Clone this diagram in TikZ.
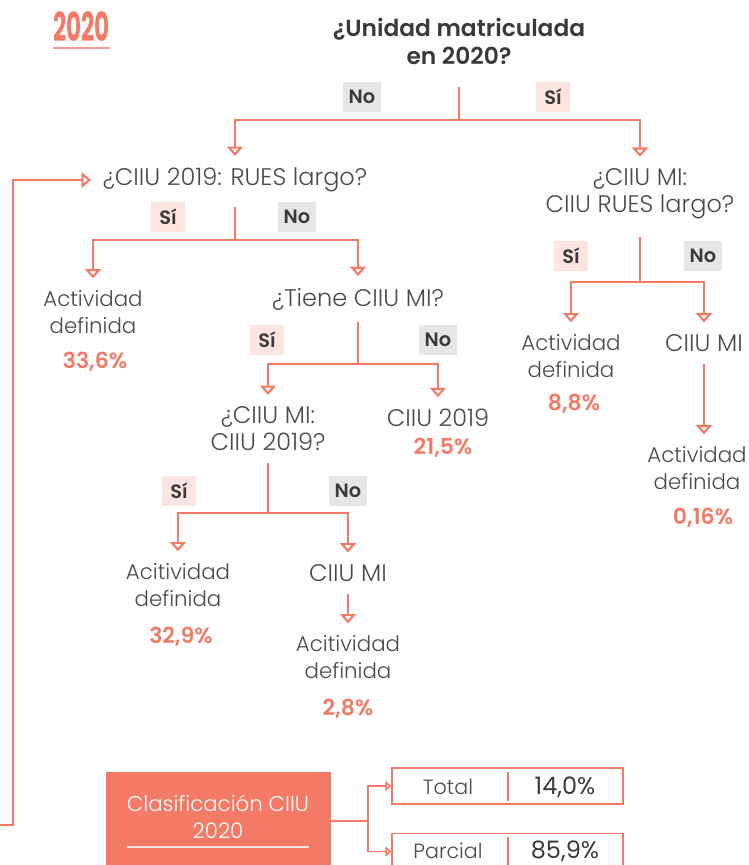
\documentclass[tikz,border=0pt]{standalone}
\usepackage{fontspec}
\setmainfont{Poppins}
\newfontfamily\thinfont{Poppins Light}
\newfontfamily\midfont{Poppins SemiBold}
\usetikzlibrary{arrows.meta}
\definecolor{salmon}{HTML}{F37A65}
\definecolor{sibg}{HTML}{FCE4DF}
\definecolor{nobg}{HTML}{E6E6E6}
\definecolor{ink}{HTML}{3A3A3A}
\definecolor{thinink}{HTML}{4A4A4A}

\begin{document}
\begin{tikzpicture}[x=0.75pt, y=-0.75pt, every node/.style={inner sep=0pt}]
  \tikzset{txt/.style={align=center, text=thinink, outer sep=9pt, font=\thinfont\fontsize{16}{20.3}\selectfont}}
  \tikzset{capt/.style={txt, font=\thinfont\fontsize{18}{20.3}\selectfont}}
  \tikzset{qbold/.style={align=center, text=ink, outer sep=9pt, font=\midfont\fontsize{17.5}{21}\selectfont}}
  \tikzset{pct/.style={text=salmon, font=\midfont\fontsize{16.5}{18}\selectfont}}
  \tikzset{sibox/.style={fill=sibg, text=ink, minimum width=25pt, minimum height=23pt, font=\midfont\fontsize{14.5}{16}\selectfont}}
  \tikzset{nobox/.style={fill=nobg, text=ink, minimum width=28pt, minimum height=23pt, font=\midfont\fontsize{14.5}{16}\selectfont}}
  \tikzset{link/.style={draw=salmon, line width=1.8pt}}
  \tikzset{arr/.style={link, -{Triangle[open, length=7pt, width=12pt, line width=1.6pt]}}}
  \tikzset{arrsm/.style={draw=salmon, line width=1.2pt, -{Triangle[open, length=4.5pt, width=7.5pt]}}}
  \tikzset{cell/.style={draw=salmon, line width=1.2pt, minimum width=173pt, minimum height=27pt}}
  \clip (0,0) rectangle (749,865);
  % title
  \node[text=salmon, font=\bfseries\fontsize{30}{30}\selectfont] (yr) at (81.5,27) {\scalebox{0.58}[1]{2020}};
  \draw[draw=salmon!75, line width=1.5pt] (53,48) -- (110,48);
  % questions
  \node[qbold] (q0) at (459,41) {¿Unidad matriculada\\en 2020?};
  \node[capt] (q1) at (235,180) {¿CIIU 2019: RUES largo?};
  \node[capt] (q2) at (640,194) {¿CIIU MI:\\CIIU RUES largo?};
  \node[capt] (q3) at (358,299) {¿Tiene CIIU MI?};
  \node[capt] (q4) at (268,429) {¿CIIU MI:\\CIIU 2019?};
  % leaves
  \node[txt] (n1) at (93,312) {Actividad\\definida};
  \node[pct] (p1) at (95,362) {33,6\%};
  \node[capt] (n4) at (438,418) {CIIU 2019};
  \node[pct] (p4) at (443,448) {21,5\%};
  \node[txt] (n5) at (178,585) {Acitividad\\definida};
  \node[pct] (p5) at (181,637) {32,9\%};
  \node[capt] (n6) at (348,573) {CIIU MI};
  \node[txt] (n7) at (348,657) {Acitividad\\definida};
  \node[pct] (p7) at (348,709) {2,8\%};
  \node[txt] (n8) at (571,356) {Actividad\\definida};
  \node[pct] (p8) at (574,404) {8,8\%};
  \node[capt] (n9) at (704,343) {CIIU MI};
  \node[txt] (n10) at (697,468) {Actividad\\definida};
  \node[pct] (p10) at (703,518) {0,16\%};
  % si / no
  \node[nobox] (no0) at (362,97) {No};
  \node[sibox] (si0) at (553,97) {Sí};
  \node[sibox] (si1) at (168,217) {Sí};
  \node[nobox] (no1) at (297,217) {No};
  \node[sibox] (si2) at (571,256) {Sí};
  \node[nobox] (no2) at (703,256) {No};
  \node[sibox] (si3) at (267,340) {Sí};
  \node[nobox] (no3) at (438,340) {No};
  \node[sibox] (si4) at (179,491) {Sí};
  \node[nobox] (no4) at (348,491) {No};
  % branches
  \coordinate (b0) at (459,120);
  \coordinate (b1) at (235,240);
  \coordinate (b2) at (640,282);
  \coordinate (b3) at (358,364);
  \coordinate (b4) at (268,513);
  \draw[link, shorten <=8pt] (q0) -- (b0);
  \draw[arr] (b0) -| (q1);
  \draw[arr] (b0) -| (q2);
  \draw[link, shorten <=2pt] (q1) -- (b1);
  \draw[arr] (b1) -| (n1);
  \draw[arr] (b1) -| (q3);
  \draw[link, shorten <=4pt] (q2) -- (b2);
  \draw[arr] (b2) -| (n8);
  \draw[arr] (b2) -| (n9);
  \draw[arr] (n9) -- (n9 |- n10.north);
  \draw[link] (q3) -- (b3);
  \draw[arr] (b3) -| (q4);
  \draw[arr] (b3) -| (n4);
  \draw[link] (q4) -- (b4);
  \draw[arr] (b4) -| (n5);
  \draw[arr] (b4) -| (n6);
  \draw[arr] (n6) -- (n7);
  % loop back
  \coordinate (lp) at (0,825);
  \draw[arr] (lp) -- ++(13,0) |- (q1);
  % summary
  \node[fill=salmon, minimum width=169pt, minimum height=73pt] (cls) at (218.5,821) {};
  \node[align=center, text=white, font=\thinfont\fontsize{16}{20.3}\selectfont] (clstxt) at (218,816.5) {Clasificación CIIU\\2020};
  \draw[draw=white!80!salmon, line width=1.5pt] (127,847) -- (309,847);
  \node[cell] (tot) at (507.5,786) {};
  \node[cell] (par) at (507.5,851.5) {};
  \draw[salmon, line width=1.2pt] (508,772) -- (508,801);
  \draw[salmon, line width=1.2pt] (508,837) -- (508,866);
  \node[text=thinink, font=\thinfont\fontsize{15.5}{18}\selectfont] (totl) at (448,787) {Total};
  \node[text=ink, font=\fontsize{18}{20}\selectfont] (totv) at (565,787) {14,0\%};
  \node[text=thinink, font=\thinfont\fontsize{15.5}{18}\selectfont] (parl) at (448,851) {Parcial};
  \node[text=ink, font=\fontsize{18}{20}\selectfont] (parv) at (565,851) {85,9\%};
  \coordinate (sp) at (368,821);
  \draw[link, line width=1.2pt] (cls) -- (sp);
  \draw[arrsm] (sp) |- (tot);
  \draw[arrsm] (sp) |- (par);
\end{tikzpicture}
\end{document}
